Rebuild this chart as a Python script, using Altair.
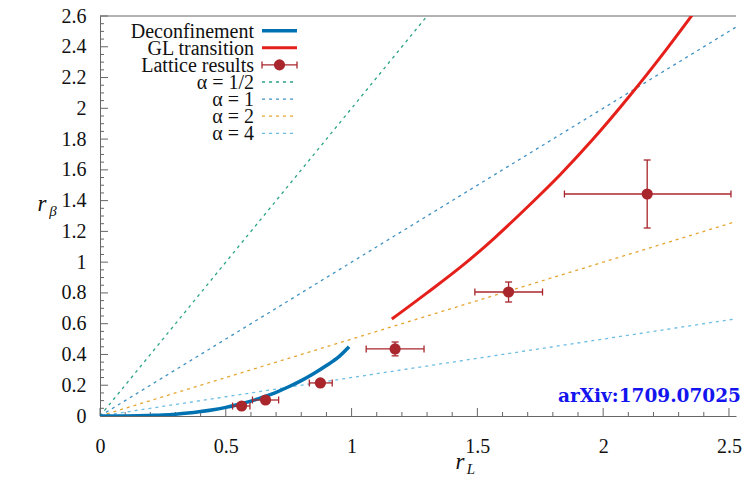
import altair as alt
import pandas as pd

# ---------------- data ----------------
alpha_labels = ["α = 1/2", "α = 1", "α = 2", "α = 4"]
alpha_x_end = [1.30, 2.56, 2.56, 2.56]
alpha_y_end = [2.60, 2.56, 1.28, 0.64]
alpha_colors = ["#2aa386", "#3f92c4", "#e6a530", "#6bbde3"]

dec_x = [0.0, 0.05, 0.1, 0.15, 0.2, 0.25, 0.3, 0.35, 0.4, 0.45, 0.5,
         0.55, 0.6, 0.65, 0.7, 0.75, 0.8, 0.85, 0.9, 0.95, 0.99]
dec_y = [0.0, 0.0001, 0.0005, 0.0015, 0.004, 0.007, 0.012, 0.019, 0.029, 0.041, 0.056,
         0.075, 0.097, 0.124, 0.154, 0.190, 0.230, 0.276, 0.328, 0.386, 0.450]

gl_x = [1.16, 1.30, 1.45, 1.57, 1.70, 1.83, 1.96, 2.10, 2.25, 2.36]
gl_y = [0.63, 0.80, 0.99, 1.16, 1.36, 1.57, 1.80, 2.07, 2.38, 2.62]

lat_x = [0.563, 0.658, 0.876, 1.173, 1.624, 2.175]
lat_y = [0.065, 0.104, 0.215, 0.436, 0.806, 1.443]
lat_xlo = [0.527, 0.606, 0.832, 1.058, 1.490, 1.846]
lat_xhi = [0.596, 0.710, 0.923, 1.288, 1.759, 2.508]
lat_ylo = [0.055, 0.094, 0.205, 0.391, 0.741, 1.222]
lat_yhi = [0.075, 0.114, 0.225, 0.481, 0.871, 1.664]

legend_labels = ["Deconfinement", "GL transition", "Lattice results"] + alpha_labels
x_major = [0.0, 0.5, 1.0, 1.5, 2.0, 2.5]
x_minor = [round(i * 0.1, 2) for i in range(26) if i % 5 != 0]
y_major = [round(i * 0.2, 2) for i in range(14)]
y_minor = [round(i * 0.05, 2) for i in range(53) if i % 4 != 0]
annotation = "arXiv:1709.07025"

# ---------------- styling ----------------
W, H = 636, 400
FONT = "Liberation Serif"
DEC_C = "#0072b2"
GL_C = "#e5201a"
LAT_C = "#a8262c"
AX_C = "#666"
DASH = [3, 4]

xs = alt.Scale(domain=[0, 2.528], nice=False, zero=False)
ys = alt.Scale(domain=[0, 2.6], nice=False, zero=False)

x_axis = alt.Axis(
    values=x_major, title=None, grid=False, ticks=False,
    labelExpr="format(datum.value, '.1~f')",
    labelPadding=20, labelFlush=False, labelOverlap=False,
)
y_axis = alt.Axis(
    values=y_major, title=None, grid=False, ticks=False,
    labelExpr="format(datum.value, '.1~f')",
    labelPadding=14, labelFlush=False, labelOverlap=False,
)


def X(f):
    return alt.X(f, scale=xs, axis=x_axis)


def Y(f):
    return alt.Y(f, scale=ys, axis=y_axis)


# ---------------- data frames ----------------
alpha_rows = []
for lab, xe, ye in zip(alpha_labels, alpha_x_end, alpha_y_end):
    alpha_rows.append({"s": lab, "x": 0.0, "y": 0.0})
    alpha_rows.append({"s": lab, "x": xe, "y": ye})
alpha_df = pd.DataFrame(alpha_rows)
dec_df = pd.DataFrame({"x": dec_x, "y": dec_y})
gl_df = pd.DataFrame({"x": gl_x, "y": gl_y})
lat_df = pd.DataFrame({"x": lat_x, "y": lat_y, "xlo": lat_xlo, "xhi": lat_xhi,
                       "ylo": lat_ylo, "yhi": lat_yhi})
xcap_df = pd.DataFrame({"x": lat_xlo + lat_xhi, "y": lat_y + lat_y})
ycap_df = pd.DataFrame({"x": lat_x + lat_x, "y": lat_ylo + lat_yhi})
one = pd.DataFrame({"a": [0]})

layers = []

# top border of the frame
layers.append(alt.Chart(one).mark_rule(color=AX_C, strokeWidth=1).encode(
    x=alt.value(0), x2=alt.value(W), y=alt.value(0)))

# inward ticks (gnuplot style)
for vals, ln in ((x_major, 8), (x_minor, 4)):
    layers.append(alt.Chart(pd.DataFrame({"x": vals})).mark_rule(color=AX_C, strokeWidth=1).encode(
        x=X("x:Q"), y=alt.value(H), y2=alt.value(H - ln)))
for vals, ln in ((y_major, 8), (y_minor, 4)):
    layers.append(alt.Chart(pd.DataFrame({"y": vals})).mark_rule(color=AX_C, strokeWidth=1).encode(
        y=Y("y:Q"), x=alt.value(0), x2=alt.value(ln)))

# alpha reference lines
layers.append(
    alt.Chart(alpha_df).mark_line(clip=True, strokeWidth=1.3, strokeDash=DASH).encode(
        x=X("x:Q"), y=Y("y:Q"),
        detail="s:N",
        color=alt.Color("s:N", scale=alt.Scale(domain=alpha_labels, range=alpha_colors), legend=None),
    )
)
# deconfinement
layers.append(
    alt.Chart(dec_df).mark_line(clip=True, strokeWidth=3.5, color=DEC_C, interpolate="monotone").encode(
        x=X("x:Q"), y=Y("y:Q")
    )
)
# GL transition
layers.append(
    alt.Chart(gl_df).mark_line(clip=True, strokeWidth=3, color=GL_C, interpolate="monotone").encode(
        x=X("x:Q"), y=Y("y:Q")
    )
)
# error bars
layers.append(
    alt.Chart(lat_df).mark_rule(color=LAT_C, strokeWidth=1.3).encode(
        x=X("xlo:Q"), x2="xhi:Q", y=Y("y:Q")
    )
)
layers.append(
    alt.Chart(lat_df).mark_rule(color=LAT_C, strokeWidth=1.3).encode(
        x=X("x:Q"), y=Y("ylo:Q"), y2="yhi:Q"
    )
)
layers.append(
    alt.Chart(xcap_df).mark_tick(color=LAT_C, orient="vertical", size=7, thickness=1.3, opacity=1).encode(
        x=X("x:Q"), y=Y("y:Q")
    )
)
layers.append(
    alt.Chart(ycap_df).mark_tick(color=LAT_C, orient="horizontal", size=7, thickness=1.3, opacity=1).encode(
        x=X("x:Q"), y=Y("y:Q")
    )
)
layers.append(
    alt.Chart(lat_df).mark_circle(color=LAT_C, size=125, opacity=1).encode(
        x=X("x:Q"), y=Y("y:Q")
    )
)

# annotation
layers.append(
    alt.Chart(one).mark_text(font="DejaVu Serif", fontWeight="bold", fontSize=18.5, color="#1414ee",
                             align="right", baseline="alphabetic").encode(
        x=alt.value(641), y=alt.value(386), text=alt.value(annotation)
    )
)

# axis titles
layers.append(alt.Chart(one).mark_text(font=FONT, fontStyle="italic", fontSize=23, color="#111",
                                       align="center", baseline="alphabetic").encode(
    x=alt.value(360), y=alt.value(453), text=alt.value("r")))
layers.append(alt.Chart(one).mark_text(font=FONT, fontStyle="italic", fontSize=15, color="#111",
                                       align="center", baseline="alphabetic").encode(
    x=alt.value(371), y=alt.value(458), text=alt.value("L")))
layers.append(alt.Chart(one).mark_text(font=FONT, fontStyle="italic", fontSize=23, color="#111",
                                       align="center", baseline="alphabetic").encode(
    x=alt.value(-58), y=alt.value(195), text=alt.value("r")))
layers.append(alt.Chart(one).mark_text(font=FONT, fontStyle="italic", fontSize=15, color="#111",
                                       align="center", baseline="alphabetic").encode(
    x=alt.value(-47), y=alt.value(200), text=alt.value("β")))

# legend
LX_TEXT, LX0, LX1 = 154, 162, 197
LY0, LDY = 14.7, 17.1
legend_colors = [DEC_C, GL_C, LAT_C] + alpha_colors
for i, lab in enumerate(legend_labels):
    yy = LY0 + i * LDY
    layers.append(alt.Chart(one).mark_text(font=FONT, fontSize=20, color="#111",
                                           align="right", baseline="middle").encode(
        x=alt.value(LX_TEXT), y=alt.value(yy + 1), text=alt.value(lab)))
    if i == 0:
        layers.append(alt.Chart(one).mark_rule(color=DEC_C, strokeWidth=3.5).encode(
            x=alt.value(LX0), x2=alt.value(LX1), y=alt.value(yy)))
    elif i == 1:
        layers.append(alt.Chart(one).mark_rule(color=GL_C, strokeWidth=3).encode(
            x=alt.value(LX0), x2=alt.value(LX1), y=alt.value(yy)))
    elif i == 2:
        layers.append(alt.Chart(one).mark_rule(color=LAT_C, strokeWidth=1.3).encode(
            x=alt.value(LX0), x2=alt.value(LX1), y=alt.value(yy)))
        for cx in (LX0, LX1):
            layers.append(alt.Chart(one).mark_rule(color=LAT_C, strokeWidth=1.3).encode(
                x=alt.value(cx), y=alt.value(yy - 3.5), y2=alt.value(yy + 3.5)))
        layers.append(alt.Chart(one).mark_circle(color=LAT_C, size=125, opacity=1).encode(
            x=alt.value((LX0 + LX1) / 2), y=alt.value(yy)))
    else:
        layers.append(alt.Chart(one).mark_rule(color=legend_colors[i], strokeWidth=1.3,
                                               strokeDash=DASH).encode(
            x=alt.value(LX0), x2=alt.value(LX1), y=alt.value(yy)))

chart = alt.layer(*layers).properties(
    width=W, height=H,
    padding={"left": 92, "top": 8, "right": 6, "bottom": 64},
    autosize=alt.AutoSizeParams(type="none"),
).configure_view(strokeWidth=0).configure_axis(
    labelFont=FONT, labelFontSize=20, labelColor="#111",
    domainColor=AX_C, domainWidth=1,
)

chart.save("out.html", embed_options={"renderer": "svg", "actions": False})
